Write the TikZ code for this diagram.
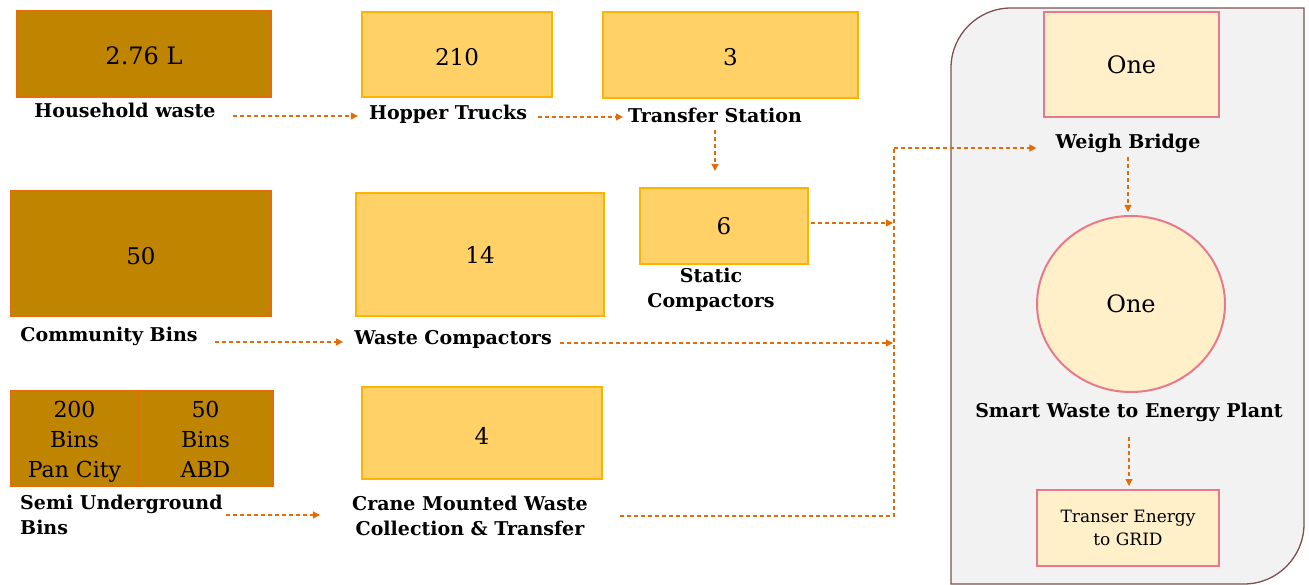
\documentclass[tikz,border=0pt]{standalone}
\usepackage{fontspec}
\setmainfont{DejaVu Serif}
\usetikzlibrary{arrows.meta,shapes.geometric,calc}
\definecolor{dgold}{HTML}{BF8500}
\definecolor{dgoldline}{HTML}{E46C0A}
\definecolor{lgold}{HTML}{FFD166}
\definecolor{lgoldline}{HTML}{FFB300}
\definecolor{flow}{HTML}{E36C09}
\definecolor{panelfill}{HTML}{F2F2F2}
\definecolor{panelline}{HTML}{7F5050}
\definecolor{cream}{HTML}{FFF0C9}
\definecolor{pinkline}{HTML}{E8798A}
\begin{document}
\begin{tikzpicture}[x=1pt,y=1pt,
  darkbox/.style={draw=dgoldline, fill=dgold, line width=2pt, inner sep=0pt, font=\fontsize{22}{30}\selectfont, align=center},
  lightbox/.style={draw=lgoldline, fill=lgold, line width=2pt, inner sep=0pt, font=\fontsize{23}{26}\selectfont},
  creambox/.style={draw=pinkline, fill=cream, line width=2pt, inner sep=0pt, font=\fontsize{24}{26}\selectfont},
  lbl/.style={font=\fontsize{19}{25}\selectfont\bfseries, inner sep=1pt, align=center},
  flowarrow/.style={draw=flow, line width=1.1pt, dash pattern=on 4pt off 3pt, -{Triangle[length=7pt,width=7pt]}},
  flowline/.style={draw=flow, line width=1.1pt, dash pattern=on 4pt off 3pt}
]
\useasboundingbox (0,0) rectangle (1309,-585);
% right panel
\draw[fill=panelfill, draw=panelline, line width=1.3pt]
  (951,-584) -- (951,-68) arc[start angle=180, end angle=90, radius=60]
  -- (1304,-8) -- (1304,-524) arc[start angle=0, end angle=-90, radius=60] -- cycle;

% boxes
\node[darkbox, minimum width=254, minimum height=86, font=\fontsize{24}{30}\selectfont] (hwbox) at (144,-54) {\rule{0pt}{22pt}2.76 L};
\node[lightbox, minimum width=190, minimum height=85] (htbox) at (457,-54.5) {\rule{0pt}{22pt}210};
\node[lightbox, minimum width=255, minimum height=86] (tsbox) at (730.5,-55) {\rule{0pt}{22pt}3};
\node[lightbox, minimum width=168, minimum height=76] (scbox) at (724,-226) {6};
\node[darkbox, minimum width=260, minimum height=125, font=\fontsize{23}{30}\selectfont] (cbbox) at (141,-253.5) {\rule{0pt}{22pt}50};
\node[lightbox, minimum width=248, minimum height=123] (wcbox) at (480,-254.5) {14};
\node[darkbox, minimum width=127, minimum height=95] (sucell1) at (74.5,-438.5) {\rule{0pt}{26pt}200\\Bins\\Pan City\strut};
\node[darkbox, minimum width=135, minimum height=95] (sucell2) at (205.5,-438.5) {\rule{0pt}{26pt}50\\Bins\\ABD\strut};
\node[lightbox, minimum width=240, minimum height=92] (crbox) at (482,-433) {\rule{0pt}{22pt}4};
\node[creambox, minimum width=175, minimum height=105] (wbbox) at (1131.5,-64.5) {One};
\node[creambox, ellipse, minimum width=188, minimum height=176] (plant) at (1131,-304) {One};
\node[creambox, minimum width=182, minimum height=76, align=center, font=\fontsize{17}{23}\selectfont] (grid) at (1128,-528) {Transer Energy\\to GRID};

% labels
\node[lbl] (hwlbl) at (125,-110) {Household waste};
\node[lbl] (htlbl) at (448,-114) {Hopper Trucks};
\node[lbl] (tslbl) at (715,-115) {Transfer Station};
\node[lbl] (sclbl) at (711,-290) {Static\\Compactors};
\node[lbl] (cblbl) at (109,-336) {Community Bins};
\node[lbl] (wclbl) at (453,-339) {Waste Compactors};
\node[lbl, align=left, anchor=west] (sulbl) at (19,-515) {Semi Underground\\Bins};
\node[lbl] (crlbl) at (470,-516) {Crane Mounted Waste\\Collection \& Transfer};
\node[lbl] (wblbl) at (1128,-143) {Weigh Bridge};
\node[lbl] (pllbl) at (1129,-412) {Smart Waste to Energy Plant};

\coordinate (bus) at (894,-148);

% connectors
\draw[flowarrow, shorten <=16pt, shorten >=10pt] ([yshift=-6pt]hwlbl.east) -- ([yshift=-6pt]hwlbl.east -| htlbl.west);
\draw[flowarrow, shorten <=10pt, shorten >=4pt] ([yshift=-3pt]htlbl.east) -- ([yshift=-3pt]htlbl.east -| tslbl.west);
\draw[flowarrow, shorten <=6pt, shorten >=16pt] (tslbl.south) -- (tslbl.south |- scbox.north);
\draw[flowarrow, shorten <=2pt, shorten >=1pt] ([yshift=3pt]scbox.east) -- ([yshift=3pt]scbox.east -| bus);
\draw[flowarrow, shorten <=16pt, shorten >=10pt] ([yshift=-6pt]cblbl.east) -- ([yshift=-6pt]cblbl.east -| wclbl.west);
\draw[flowarrow, shorten <=7pt, shorten >=1pt] ([yshift=-4pt]wclbl.east) -- ([yshift=-4pt]wclbl.east -| bus);
\draw[flowarrow, shorten <=2pt, shorten >=31pt] (sulbl.east) -- (sulbl.east -| crlbl.west);
\draw[flowline, shorten <=31pt] (crlbl.east) -- (crlbl.east -| bus) -- (bus);
\draw[flowarrow, shorten >=18pt] (bus) -- (bus -| wblbl.west);
\draw[flowarrow, shorten <=3pt, shorten >=3pt] (wblbl.south) -- (wblbl.south |- plant.north);
\draw[flowarrow, shorten <=14pt, shorten >=3pt] (pllbl.south) -- (pllbl.south |- grid.north);
\end{tikzpicture}
\end{document}
